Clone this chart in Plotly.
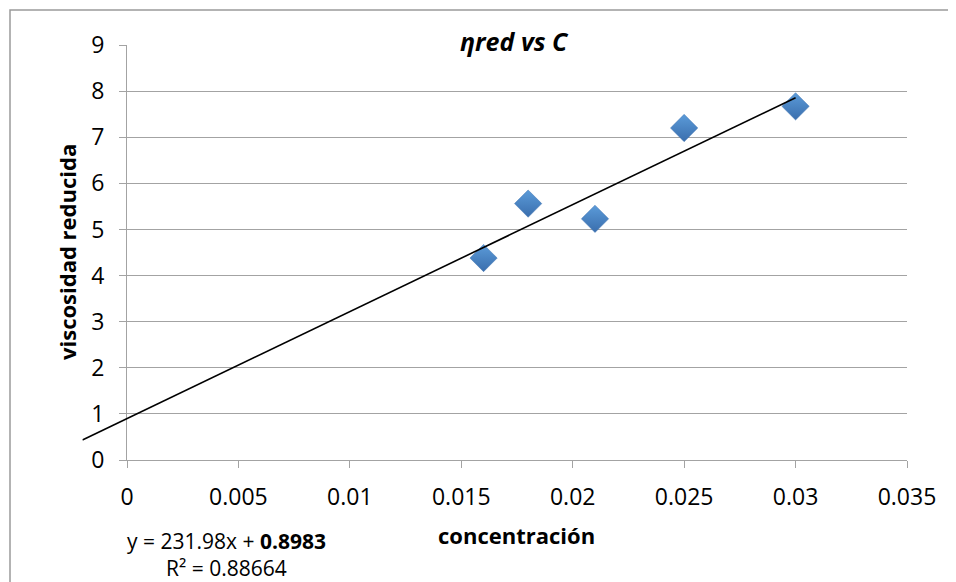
import plotly.graph_objects as go

# ---------------- data ----------------
concentracion = [0.016, 0.018, 0.021, 0.025, 0.030]
viscosidad_reducida = [4.38, 5.56, 5.23, 7.20, 7.67]

slope = 231.98
intercept = 0.8983
r_squared = 0.88664
trend_x = [-0.002, 0.030]           # trendline extent (backward forecast)

x_tickvals = [0, 0.005, 0.01, 0.015, 0.02, 0.025, 0.03, 0.035]
x_ticktext = ["0", "0.005", "0.01", "0.015", "0.02", "0.025", "0.03", "0.035"]
y_tickvals = [0, 1, 2, 3, 4, 5, 6, 7, 8, 9]

title_text = "ηred vs C"
x_title = "concentración"
y_title = "viscosidad reducida"

# ---------------- layout geometry (pixels, in the 956x582 window) ----------------
OFF = 8                       # default body margin of the html page
W, H = 956, 582
FW, FH = W - OFF, H - OFF     # figure size so it ends exactly at the window edge
PL, PR, PT, PB = 127, 907, 45, 460
X_MIN, X_MAX = 0.0, 0.035
Y_MIN, Y_MAX = 0.0, 9.0

# margins in figure pixels
ML = 0
MR = W - PR
MT = PT - OFF
MB = H - PB
plot_w = FW - ML - MR
plot_h = FH - MT - MB
d0 = (PL - OFF - ML) / plot_w
d2 = d0 - (X_MIN - trend_x[0]) / (X_MAX - X_MIN) * (1 - d0)


def px_x(px):
    return (px - OFF - ML) / plot_w


def px_y(py):
    return (PB - py) / plot_h


trend_y = [slope * x + intercept for x in trend_x]

FONT = "Open Sans"
GRID = "#a3a3a3"

fig = go.Figure()

fig.add_trace(go.Scatter(
    x=concentracion, y=viscosidad_reducida, mode="markers",
    marker=dict(symbol="diamond", size=21, color="#5b9bd9",
                gradient=dict(type="vertical", color="#3a6ead"),
                line=dict(width=0.5, color="#3f73b0")),
    xaxis="x", yaxis="y", showlegend=False, hoverinfo="x+y"))

fig.add_trace(go.Scatter(
    x=trend_x, y=trend_y, mode="lines",
    line=dict(color="black", width=1.6),
    xaxis="x2", yaxis="y2", showlegend=False, hoverinfo="skip"))

axis_font = dict(family=FONT, size=23, color="black")

fig.update_layout(
    width=FW, height=FH,
    margin=dict(l=ML, r=MR, t=MT, b=MB, pad=0),
    paper_bgcolor="white", plot_bgcolor="rgba(0,0,0,0)",
    font=dict(family=FONT, color="black"),
    xaxis=dict(domain=[d0, 1], range=[X_MIN, X_MAX], anchor="y",
               tickvals=x_tickvals, ticktext=x_ticktext,
               showgrid=False, zeroline=False,
               showline=True, linecolor=GRID, linewidth=1.2,
               ticks="outside", ticklen=7, tickcolor=GRID, tickwidth=1.2,
               tickfont=axis_font, ticklabelstandoff=9, automargin=False),
    yaxis=dict(domain=[0, 1], range=[Y_MIN, Y_MAX], anchor="x",
               tickvals=y_tickvals,
               showgrid=True, gridcolor=GRID, gridwidth=1.2, zeroline=False,
               showline=True, linecolor=GRID, linewidth=1.2,
               ticks="outside", ticklen=7, tickcolor=GRID, tickwidth=1.2,
               tickfont=axis_font, ticklabelstandoff=10, automargin=False),
    xaxis2=dict(domain=[d2, 1], range=[trend_x[0], X_MAX], anchor="y2",
                visible=False, fixedrange=True),
    yaxis2=dict(domain=[0, 1], range=[Y_MIN, Y_MAX], anchor="x2",
                visible=False, fixedrange=True),
)

# chart border (extends past right / bottom of the image)
fig.add_shape(type="rect", xref="paper", yref="paper",
              x0=px_x(10), x1=px_x(W + 40), y0=px_y(H + 40), y1=px_y(10),
              line=dict(color="#9a9a9a", width=1.5), fillcolor="rgba(0,0,0,0)",
              layer="below")

fig.add_annotation(text="<b><i>" + title_text + "</i></b>", xref="paper", yref="paper",
                   x=px_x(514), y=px_y(41), xanchor="center", yanchor="middle",
                   showarrow=False, font=dict(family=FONT, size=25, color="black"))
fig.add_annotation(text="<b>" + x_title + "</b>", xref="paper", yref="paper",
                   x=px_x(517), y=px_y(535), xanchor="center", yanchor="middle",
                   showarrow=False, font=dict(family=FONT, size=22, color="black"))
fig.add_annotation(text="<b>" + y_title + "</b>", xref="paper", yref="paper",
                   x=px_x(67), y=px_y(252), xanchor="center", yanchor="middle",
                   textangle=-90, showarrow=False,
                   font=dict(family=FONT, size=22, color="black"))
fig.add_annotation(text="y = %.2fx + <b>%.4f</b><br>R² = %.5f" % (slope, intercept, r_squared),
                   xref="paper", yref="paper", align="center",
                   x=px_x(226), y=px_y(554), xanchor="center", yanchor="middle",
                   showarrow=False, font=dict(family=FONT, size=21, color="black"))

fig.write_html("out.html")
